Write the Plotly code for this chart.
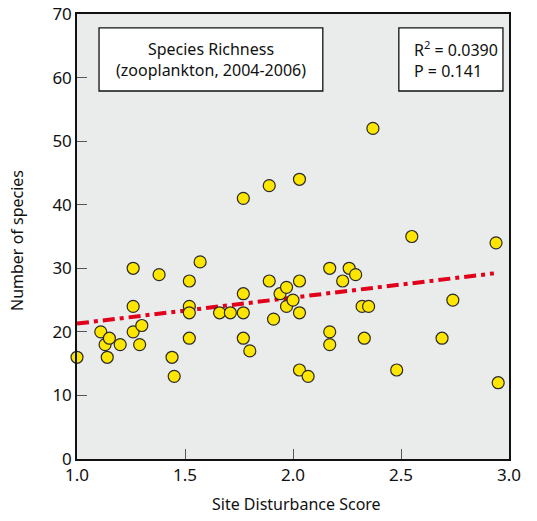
import plotly.graph_objects as go

# Data
disturbance = [1.00, 1.11, 1.13, 1.15, 1.14, 1.20, 1.26, 1.26, 1.26, 1.30, 1.29,
               1.38, 1.44, 1.45, 1.52, 1.52, 1.52, 1.52, 1.57, 1.66, 1.71,
               1.77, 1.77, 1.77, 1.77, 1.80, 1.89, 1.89, 1.91, 1.94, 1.97, 1.97,
               2.00, 2.03, 2.03, 2.03, 2.03, 2.07, 2.17, 2.17, 2.17, 2.23, 2.26,
               2.29, 2.32, 2.35, 2.33, 2.37, 2.48, 2.55, 2.69, 2.74, 2.94, 2.95]
species = [16, 20, 18, 19, 16, 18, 30, 24, 20, 21, 18,
           29, 16, 13, 28, 24, 23, 19, 31, 23, 23,
           41, 26, 23, 19, 17, 43, 28, 22, 26, 27, 24,
           25, 44, 28, 23, 14, 13, 30, 20, 18, 28, 30,
           29, 24, 24, 19, 52, 14, 35, 19, 25, 34, 12]

trend_x = [1.0, 2.93]
trend_y = [21.3, 29.2]

title_lines = ["Species Richness", "(zooplankton, 2004-2006)"]
stats_lines = ["R<sup>2</sup> = 0.0390", "P = 0.141"]
x_title = "Site Disturbance Score"
y_title = "Number of species"

FONT = "Noto Sans"

fig = go.Figure()
fig.add_trace(go.Scatter(
    x=trend_x, y=trend_y, mode="lines",
    line=dict(color="#E2001A", width=4, dash="12px,5px,4px,5px"),
    showlegend=False, hoverinfo="skip"))
fig.add_trace(go.Scatter(
    x=disturbance, y=species, mode="markers",
    marker=dict(size=12, color="#FFE600", line=dict(color="#2a2a2a", width=1.2)),
    cliponaxis=False, showlegend=False))

axis_common = dict(
    showline=True, linecolor="#111", linewidth=1.5, mirror=True,
    ticks="inside", ticklen=10, tickcolor="#555", tickwidth=1.2,
    showgrid=False, zeroline=False, automargin=False,
    tickfont=dict(family=FONT, size=17, color="#111"),
)

fig.update_layout(
    width=537, height=521,
    margin=dict(l=77, r=28, t=14, b=62),
    paper_bgcolor="white", plot_bgcolor="#EAECEC",
    font=dict(family=FONT, color="#111"),
    xaxis=dict(range=[1, 3], tick0=1, dtick=0.5, tickformat=".1f", **axis_common),
    yaxis=dict(range=[0, 70], tick0=0, dtick=10, **axis_common),
    shapes=[
        dict(type="rect", xref="paper", yref="paper", x0=0.051, x1=0.569, y0=0.827, y1=0.969,
             line=dict(color="#111", width=1.3), fillcolor="white", layer="above"),
        dict(type="rect", xref="paper", yref="paper", x0=0.745, x1=0.986, y0=0.827, y1=0.969,
             line=dict(color="#111", width=1.3), fillcolor="white", layer="above"),
    ],
    annotations=[
        dict(xref="paper", yref="paper", x=0.310, y=0.898, text="<br>".join(title_lines),
             showarrow=False, align="center", xanchor="center", yanchor="middle",
             font=dict(family=FONT, size=16, color="#111")),
        dict(xref="paper", yref="paper", x=0.776, y=0.898, text="<br>".join(stats_lines),
             showarrow=False, align="left", xanchor="left", yanchor="middle",
             font=dict(family=FONT, size=16, color="#111")),
        dict(xref="paper", yref="paper", x=0.509, y=-0.101, text=x_title,
             showarrow=False, xanchor="center", yanchor="middle",
             font=dict(family=FONT, size=16, color="#111")),
        dict(xref="paper", yref="paper", x=-0.139, y=0.492, text=y_title, textangle=-90,
             showarrow=False, xanchor="center", yanchor="middle",
             font=dict(family=FONT, size=16, color="#111")),
    ],
)

fig.write_html("out.html")
